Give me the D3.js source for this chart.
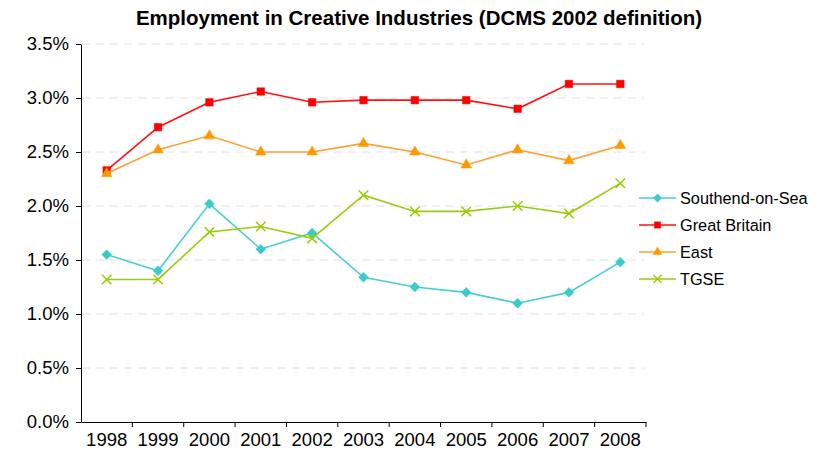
<!DOCTYPE html>
<html>
<head>
<meta charset="utf-8">
<script src="https://cdn.jsdelivr.net/npm/d3@7"></script>
<style>
  html, body { margin: 0; padding: 0; background: #fff; }
  svg { display: block; font-family: "Liberation Sans", Arial, sans-serif; }
</style>
</head>
<body>
<svg id="chart" width="827" height="459"></svg>
<script>
// Share of employment in creative industries, by area and year
const years = ["1998","1999","2000","2001","2002","2003","2004","2005","2006","2007","2008"];
const southend = [1.55, 1.40, 2.02, 1.60, 1.75, 1.34, 1.25, 1.20, 1.10, 1.20, 1.48];
const greatBritain = [2.33, 2.73, 2.96, 3.06, 2.96, 2.98, 2.98, 2.98, 2.90, 3.13, 3.13];
const east = [2.30, 2.52, 2.65, 2.50, 2.50, 2.58, 2.50, 2.38, 2.52, 2.42, 2.56];
const tgse = [1.32, 1.32, 1.76, 1.81, 1.70, 2.10, 1.95, 1.95, 2.00, 1.93, 2.21];
const yTicks = [0, 0.5, 1.0, 1.5, 2.0, 2.5, 3.0, 3.5];

const seriesList = [
  { name: "Southend-on-Sea", values: southend, color: "#3ccaca", line: "#45cfd2", symbol: d3.symbolDiamond2, size: 62 },
  { name: "Great Britain", values: greatBritain, color: "#ff0000", line: "#ff1010", symbol: d3.symbolSquare2, size: 72 },
  { name: "East", values: east, color: "#ff9900", line: "#ffa030", symbol: d3.symbolTriangle2, size: 80 },
  { name: "TGSE", values: tgse, color: "#99cc00", line: "#99cc11", symbol: d3.symbolX, size: 60 }
];

const svg = d3.select("#chart");
const plotLeft = 81, plotRight = 646, plotTop = 44, plotBottom = 422;

const x = d3.scaleBand().domain(years).range([plotLeft, plotRight]);
const y = d3.scaleLinear().domain([0, 3.5]).range([plotBottom, plotTop]);

// Title
svg.append("text")
  .attr("x", 419).attr("y", 25)
  .attr("text-anchor", "middle")
  .attr("font-size", 20.5).attr("font-weight", "bold")
  .attr("fill", "#000")
  .text("Employment in Creative Industries (DCMS 2002 definition)");

// Dashed horizontal gridlines
svg.append("g").selectAll("line")
  .data(yTicks.filter(t => t > 0))
  .join("line")
  .attr("x1", plotLeft + 1).attr("x2", plotRight - 2)
  .attr("y1", d => y(d)).attr("y2", d => y(d))
  .attr("stroke", "#e2e2e2").attr("stroke-width", 1)
  .attr("stroke-dasharray", "8,6");

// Y axis
const yAxis = svg.append("g")
  .attr("transform", `translate(${plotLeft},0)`)
  .call(d3.axisLeft(y).tickValues(yTicks).tickFormat(d => d.toFixed(1) + "%").tickSize(5).tickSizeOuter(0).tickPadding(7));
yAxis.selectAll("text").attr("font-size", 18.5).attr("fill", "#000").attr("font-family", "Liberation Sans, Arial, sans-serif");
yAxis.selectAll("line, path").attr("stroke", "#000");

// X axis with ticks on category boundaries
const xAxis = svg.append("g")
  .attr("transform", `translate(0,${plotBottom})`)
  .call(d3.axisBottom(x).tickSize(0).tickPadding(11));
xAxis.select(".domain").attr("stroke", "#000");
xAxis.selectAll("text").attr("font-size", 18.5).attr("fill", "#000").attr("font-family", "Liberation Sans, Arial, sans-serif");
svg.append("g").selectAll("line")
  .data(years)
  .join("line")
  .attr("x1", d => x(d) + x.bandwidth())
  .attr("x2", d => x(d) + x.bandwidth())
  .attr("y1", plotBottom).attr("y2", plotBottom + 5)
  .attr("stroke", "#000");

const cx = d => x(d) + x.bandwidth() / 2;
const lineGen = d3.line().x((v, i) => cx(years[i])).y(v => y(v));

// Series lines and markers
seriesList.forEach(s => {
  const g = svg.append("g");
  g.append("path")
    .datum(s.values)
    .attr("d", lineGen)
    .attr("fill", "none")
    .attr("stroke", s.line)
    .attr("stroke-width", 1.6);
  const sym = d3.symbol().type(s.symbol).size(s.size);
  g.selectAll("path.m")
    .data(s.values)
    .join("path")
    .attr("class", "m")
    .attr("d", sym)
    .attr("transform", (v, i) => `translate(${cx(years[i])},${y(v)})`)
    .attr("fill", s.symbol === d3.symbolX ? "none" : s.color)
    .attr("stroke", s.color)
    .attr("stroke-width", s.symbol === d3.symbolX ? 1.5 : 0.5);
});

// Legend
const legend = svg.append("g");
seriesList.forEach((s, i) => {
  const ly = 198 + i * 27;
  legend.append("line")
    .attr("x1", 639).attr("x2", 676)
    .attr("y1", ly).attr("y2", ly)
    .attr("stroke", s.line).attr("stroke-width", 1.6);
  legend.append("path")
    .attr("d", d3.symbol().type(s.symbol).size(s.size * 0.7)())
    .attr("transform", `translate(657.5,${ly})`)
    .attr("fill", s.symbol === d3.symbolX ? "none" : s.color)
    .attr("stroke", s.color)
    .attr("stroke-width", s.symbol === d3.symbolX ? 1.3 : 0.5);
  legend.append("text")
    .attr("x", 680).attr("y", ly + 6)
    .attr("font-size", 16.3).attr("fill", "#000")
    .text(s.name);
});
</script>
</body>
</html>
